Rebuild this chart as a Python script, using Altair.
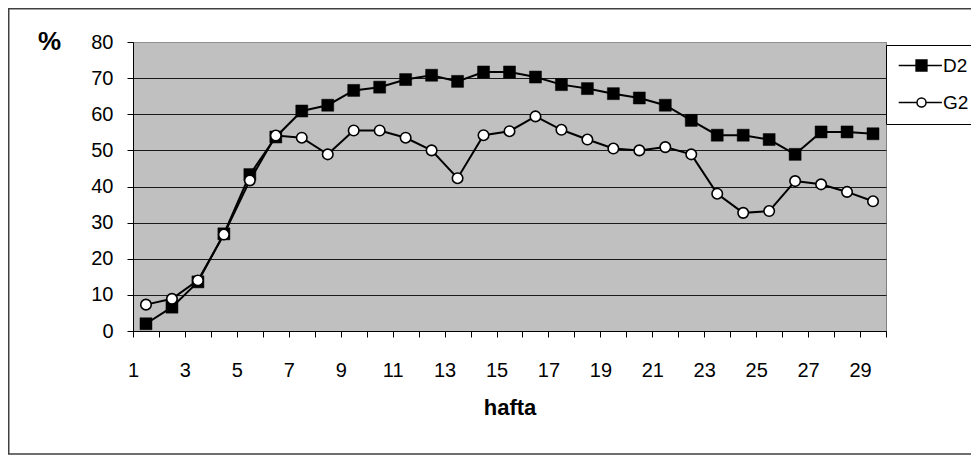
import altair as alt
import pandas as pd

weeks = list(range(1, 30))
d2 = [2.0, 6.6, 13.6, 26.9, 43.3, 53.7, 60.9, 62.5, 66.6, 67.5, 69.6, 70.8, 69.1, 71.7, 71.7,
      70.3, 68.2, 67.1, 65.7, 64.5, 62.5, 58.3, 54.2, 54.2, 53.0, 48.9, 55.1, 55.1, 54.6]
g2 = [7.3, 8.9, 14.0, 26.7, 41.7, 54.1, 53.5, 48.9, 55.5, 55.5, 53.5, 50.0, 42.3, 54.2, 55.3,
      59.4, 55.7, 53.0, 50.5, 50.0, 50.9, 48.9, 38.0, 32.7, 33.2, 41.5, 40.6, 38.5, 35.9]
series_names = ["D2", "G2"]
y_ticks = [0, 10, 20, 30, 40, 50, 60, 70, 80]
x_ticks = [w - 0.5 for w in weeks] + [29.5]

rows = []
for w, a, b in zip(weeks, d2, g2):
    rows.append({"hafta": w, "value": a, "series": "D2"})
    rows.append({"hafta": w, "value": b, "series": "G2"})
df = pd.DataFrame(rows)

FONT = "Liberation Sans"

x_enc = alt.X(
    "hafta:Q",
    scale=alt.Scale(domain=[0.5, 29.5], nice=False, zero=False),
    axis=alt.Axis(
        values=x_ticks,
        labelExpr="((datum.value + 0.5) % 2 == 1 && datum.value < 29) ? format(datum.value + 0.5, 'd') : ''",
        labelFlush=False,
        labelOverlap=False,
        grid=False,
        domainColor="black",
        tickColor="black",
        tickSize=6,
        labelPadding=23,
        labelFontSize=20,
        labelFont=FONT,
        labelColor="black",
        title="hafta",
        titleFont=FONT,
        titleFontSize=22,
        titleFontWeight="bold",
        titleColor="black",
        titleY=83,
        titleBaseline="alphabetic",
    ),
)
y_enc = alt.Y(
    "value:Q",
    scale=alt.Scale(domain=[0, 80], nice=False),
    axis=alt.Axis(
        values=y_ticks,
        labelOverlap=False,
        grid=True,
        gridColor={"condition": {"test": "datum.value == 80", "value": "#909090"}, "value": "#1a1a1a"},
        gridWidth=1,
        domainColor="black",
        tickColor="black",
        tickSize=6,
        labelPadding=14,
        labelFontSize=20,
        labelFont=FONT,
        labelColor="black",
        title="%",
        titleFont=FONT,
        titleFontSize=26,
        titleFontWeight="bold",
        titleColor="black",
        titleAngle=0,
        titleAlign="center",
        titleBaseline="alphabetic",
        titleX=-84,
        titleY=7,
    ),
)

base = alt.Chart(df)

lines = base.mark_line(color="black", strokeWidth=2).encode(
    x=x_enc, y=y_enc, detail="series:N"
)
pts_d2 = base.transform_filter("datum.series == 'D2'").mark_point(
    shape="square", size=144, filled=True, fill="black", stroke="black", strokeWidth=0.5, opacity=1
).encode(x=x_enc, y=y_enc)
pts_g2 = base.transform_filter("datum.series == 'G2'").mark_point(
    shape="circle", size=110, filled=True, fill="white", stroke="black", strokeWidth=1.6, opacity=1
).encode(x=x_enc, y=y_enc)

path_d2 = "M-3.8,0H3.4M-0.9,-0.9H0.9V0.9H-0.9Z"
path_g2 = "M-3.8,0H-0.75M0.75,0H3.4M0.75,0A0.75,0.75,0,1,1,-0.75,0A0.75,0.75,0,1,1,0.75,0Z"

legend_df = pd.DataFrame({"series": series_names, "hafta": [1, 1], "value": [-50, -50]})
leg = alt.Legend(
    title=None,
    orient="none",
    legendX=753,
    legendY=3,
    strokeColor="black",
    fillColor="white",
    padding=11,
    rowPadding=17,
    symbolSize=144,
    symbolStrokeColor="black",
    symbolStrokeWidth=1.5,
    symbolOffset=15,
    labelOffset=12,
    labelFont=FONT,
    labelFontSize=19,
    labelColor="black",
    labelExpr="datum.label + '                  '",
)
legend_layer = alt.Chart(legend_df).mark_point(
    clip=True, size=144, filled=True, strokeWidth=1.5, opacity=1
).encode(
    x=x_enc,
    y=y_enc,
    shape=alt.Shape("series:N", scale=alt.Scale(domain=series_names, range=[path_d2, path_g2]), legend=leg),
    fill=alt.Fill("series:N", scale=alt.Scale(domain=series_names, range=["black", "white"]), legend=leg),
    stroke=alt.Stroke("series:N", scale=alt.Scale(domain=series_names, range=["black", "black"]), legend=leg),
)

frame = alt.Chart(alt.Data(values=[{"a": 1}])).mark_rect(
    filled=False, stroke="#404040", strokeWidth=1.5
).encode(
    x=alt.value(-124.25), x2=alt.value(900), y=alt.value(-33.25), y2=alt.value(412)
)

chart = alt.layer(frame, lines, pts_d2, pts_g2, legend_layer).properties(
    width=753,
    height=289,
    padding={"left": 125, "top": 34, "right": 85, "bottom": 124},
    autosize=alt.AutoSizeParams(type="none"),
).configure_view(fill="#C0C0C0", stroke="#808080", strokeWidth=1)

chart.save("out.html", embed_options={"renderer": "svg", "actions": False})
